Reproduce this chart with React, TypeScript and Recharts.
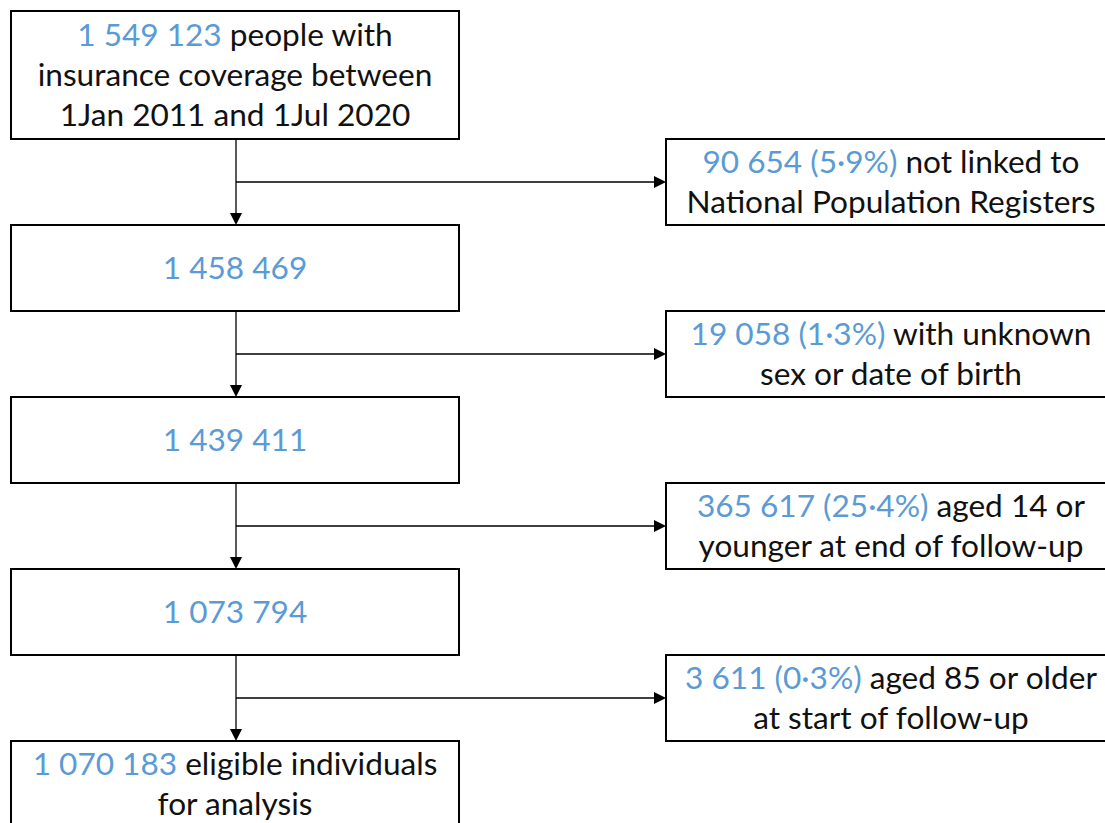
import React from "react";
import {
  ReferenceArea,
  ReferenceLine,
  Scatter,
  ScatterChart,
  XAxis,
  YAxis,
} from "recharts";

// flow steps (people remaining after each exclusion)
const mainCounts = [1549123, 1458469, 1439411, 1073794, 1070183];
const mainLabels = [
  ["people with", "insurance coverage between", "1Jan 2011 and 1Jul 2020"],
  [],
  [],
  [],
  ["eligible individuals", "for analysis"],
];

// exclusions between steps
const excludedCounts = [90654, 19058, 365617, 3611];
const excludedShares = [5.9, 1.3, 25.4, 0.3];
const excludedLabels = [
  ["not linked to", "National Population Registers"],
  ["with unknown", "sex or date of birth"],
  ["aged 14 or", "younger at end of follow-up"],
  ["aged 85 or older", "at start of follow-up"],
];

const W = 1105;
const H = 823;
const BLUE = "#5b9bd5";
const FONT = "Lato, 'Open Sans', sans-serif";
const FONT_SIZE = 31.6;
const LINE_H = 40;

// layout
const MAIN_X1 = 11;
const MAIN_X2 = 459;
const STEM_X = 236;
const EXCL_X1 = 666;
const EXCL_X2 = 1116;
const TOP = 11;
const TALL_H = 128;
const BOX_H = 86;
const GAP = 86;

const fmtCount = (n: number) => String(n).replace(/\B(?=(\d{3})+(?!\d))/g, " ");
const fmtShare = (v: number) => v.toFixed(1).replace(".", "·") + "%";

const boxHeight = (i: number) => (mainLabels[i].length > 2 ? TALL_H : BOX_H);
const boxTop = (i: number) => {
  let y = TOP;
  for (let k = 0; k < i; k++) y += boxHeight(k) + GAP;
  return y;
};

type Seg = { text: string; blue?: boolean };
type TextNode = { x: number; y: number; lines: Seg[][] };

const mainBoxes = mainCounts.map((c, i) => {
  const rest = mainLabels[i];
  const lines: Seg[][] = [
    [{ text: fmtCount(c), blue: true }, ...(rest[0] ? [{ text: " " + rest[0] }] : [])],
    ...rest.slice(1).map((t) => [{ text: t }]),
  ];
  const y1 = boxTop(i);
  const y2 = y1 + boxHeight(i);
  return { y1, y2, node: { x: (MAIN_X1 + MAIN_X2) / 2, y: (y1 + y2) / 2, lines } };
});

const exclBoxes = excludedCounts.map((c, i) => {
  const y1 = mainBoxes[i].y2;
  const y2 = mainBoxes[i + 1].y1;
  const lbl = excludedLabels[i];
  const lines: Seg[][] = [
    [{ text: `${fmtCount(c)} (${fmtShare(excludedShares[i])})`, blue: true }, { text: " " + lbl[0] }],
    ...lbl.slice(1).map((t) => [{ text: t }]),
  ];
  return { y1, y2, mid: (y1 + y2) / 2, node: { x: (EXCL_X1 + EXCL_X2) / 2, y: (y1 + y2) / 2, lines } };
});

const textNodes: TextNode[] = [...mainBoxes.map((b) => b.node), ...exclBoxes.map((b) => b.node)];

const arrowHeads = [
  ...exclBoxes.map((b, i) => ({ x: STEM_X, y: mainBoxes[i + 1].y1, dir: "down" })),
  ...exclBoxes.map((b) => ({ x: EXCL_X1, y: b.mid, dir: "right" })),
];

const BoxText = (props: any) => {
  const { cx, cy, payload } = props;
  const lines: Seg[][] = payload.lines;
  const n = lines.length;
  return (
    <g>
      {lines.map((segs, k) => (
        <text
          key={k}
          x={cx}
          y={cy + (k - (n - 1) / 2) * LINE_H + FONT_SIZE * 0.35}
          textAnchor="middle"
          fontFamily={FONT}
          fontSize={FONT_SIZE}
          style={{ whiteSpace: "pre" }}
        >
          {segs.map((s, j) => (
            <tspan key={j} fill={s.blue ? BLUE : "#111"}>
              {s.text}
            </tspan>
          ))}
        </text>
      ))}
    </g>
  );
};

const Arrow = (props: any) => {
  const { cx, cy, payload } = props;
  const pts =
    payload.dir === "down"
      ? `${cx - 6},${cy - 12} ${cx + 6},${cy - 12} ${cx},${cy}`
      : `${cx - 12},${cy - 6} ${cx - 12},${cy + 6} ${cx},${cy}`;
  return <polygon points={pts} fill="#000" />;
};

export default function App() {
  return (
    <div style={{ position: "absolute", left: 0, top: 0, background: "#fff" }}>
      <ScatterChart width={W} height={H} margin={{ top: 0, right: 0, bottom: 0, left: 0 }}>
        <XAxis type="number" dataKey="x" domain={[0, W]} hide allowDataOverflow />
        <YAxis type="number" dataKey="y" domain={[0, H]} reversed hide allowDataOverflow />
        {exclBoxes.map((b, i) => (
          <ReferenceLine
            key={`v${i}`}
            segment={[
              { x: STEM_X, y: mainBoxes[i].y2 },
              { x: STEM_X, y: mainBoxes[i + 1].y1 - 10 },
            ]}
            stroke="#000"
            strokeWidth={1.3}
          />
        ))}
        {exclBoxes.map((b, i) => (
          <ReferenceLine
            key={`h${i}`}
            segment={[
              { x: STEM_X, y: b.mid },
              { x: EXCL_X1 - 10, y: b.mid },
            ]}
            stroke="#000"
            strokeWidth={1.3}
          />
        ))}
        {mainBoxes.map((b, i) => (
          <ReferenceArea
            key={`m${i}`}
            x1={MAIN_X1}
            x2={MAIN_X2}
            y1={b.y1}
            y2={b.y2}
            fill="#fff"
            fillOpacity={1}
            stroke="#000"
            strokeWidth={2}
            ifOverflow="visible"
          />
        ))}
        {exclBoxes.map((b, i) => (
          <ReferenceArea
            key={`e${i}`}
            x1={EXCL_X1}
            x2={EXCL_X2}
            y1={b.y1}
            y2={b.y2}
            fill="#fff"
            fillOpacity={1}
            stroke="#000"
            strokeWidth={2}
            ifOverflow="visible"
          />
        ))}
        <Scatter data={arrowHeads} shape={<Arrow />} isAnimationActive={false} />
        <Scatter data={textNodes} shape={<BoxText />} isAnimationActive={false} />
      </ScatterChart>
    </div>
  );
}
